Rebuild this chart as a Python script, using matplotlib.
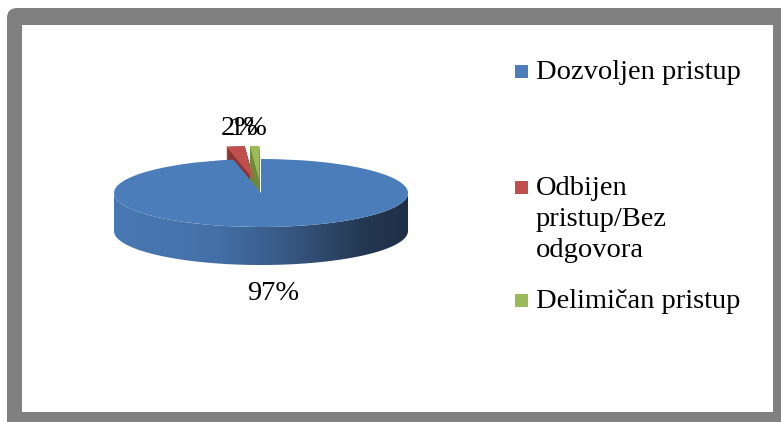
import numpy as np
import matplotlib
matplotlib.use('Agg')
import matplotlib.pyplot as plt
from matplotlib.patches import Wedge, Polygon, Rectangle, FancyBboxPatch
from matplotlib.colors import LinearSegmentedColormap

# ---------------- data ----------------
categories = ["Dozvoljen pristup", "Odbijen\npristup/Bez\nodgovora", "Delimičan pristup"]
values = [97, 2, 1]
explode = [0.0, 0.38, 0.38]
top_colors = ["#4A7DBA", "#C0504D", "#9BBB59"]
side_colors = ["#2C4770", "#8A3533", "#6C8A38"]

W, H = 781, 422
fig = plt.figure(figsize=(W / 100, H / 100), dpi=100)

# background axes in pixel coords: grey frame + legend + labels
bg = fig.add_axes([0, 0, 1, 1])
bg.set_xlim(0, W)
bg.set_ylim(H, 0)
bg.axis('off')
bg.add_patch(FancyBboxPatch((7, 8), 800, 440, boxstyle="round,pad=0,rounding_size=10",
                            fc="#808080", ec="none"))
bg.add_patch(Rectangle((22, 25), 751, 387, fc="white", ec="none"))

font = dict(family="Liberation Serif", size=20.5, color="black")

# legend (drawn by hand, text column at right); y = first-line baseline
legend_rows = [79, 195, 308]
for name, col, yb in zip(categories, top_colors, legend_rows):
    bg.add_patch(Rectangle((515, yb - 14), 13, 13, fc=col, ec="none"))
    bg.text(536, yb - 19, name, ha="left", va="top", linespacing=1.32, **font)

# ---------------- 3D-looking pie ----------------
rx, ry, cx, cy = 147.0, 34.0, 261.0, 193.0   # pixels
depth = 38.0 / ry                             # in y data units
left, right, top, bottom = 100, 430, 100, 310
ax = fig.add_axes([left / W, 1 - bottom / H, (right - left) / W, (bottom - top) / H])
ax.set_facecolor("none")
ax.axis('off')
xlim = (-(cx - left) / rx, (right - cx) / rx)
ylim = (-(bottom - cy) / ry, (cy - top) / ry)

# slice angles, clockwise from 12 o'clock
angles = []
start = 90.0
for v in values:
    end = start - v * 3.6
    angles.append((end, start))
    start = end

# extrusions of exploded slices (behind the main slice)
for (t1, t2), e, sc in zip(angles, explode, side_colors):
    if e == 0:
        continue
    mid = np.radians((t1 + t2) / 2)
    ox, oy = e * np.cos(mid), e * np.sin(mid)
    for k in np.linspace(depth, 0, 40):
        ax.add_patch(Wedge((ox, oy - k), 1.0, t1, t2, fc=sc, ec="none"))

# front side band of the main slice with horizontal gradient
t = np.radians(np.linspace(180, 360, 200))
xs, ys = np.cos(t), np.sin(t)
band = np.concatenate([np.column_stack([xs, ys]),
                       np.column_stack([xs[::-1], ys[::-1] - depth])])
band_patch = Polygon(band, closed=True, fc="none", ec="none")
ax.add_patch(band_patch)
cmap = LinearSegmentedColormap.from_list(
    "side", [(0, "#4979B3"), (0.35, "#4470A7"), (0.6, "#375782"),
             (0.85, "#243851"), (1.0, "#1F2F47")])
grad = np.linspace(0, 1, 256).reshape(1, -1)
im = ax.imshow(grad, cmap=cmap, extent=(-1, 1, -1 - depth, 0), aspect="auto",
               interpolation="bilinear", zorder=1)
im.set_clip_path(band_patch)

# top faces
for (t1, t2), e, tc in zip(angles, explode, top_colors):
    mid = np.radians((t1 + t2) / 2)
    ox, oy = e * np.cos(mid), e * np.sin(mid)
    ax.add_patch(Wedge((ox, oy), 1.0, t1, t2, fc=tc, ec="none", zorder=2 if e == 0 else 3))

ax.set_xlim(*xlim)
ax.set_ylim(*ylim)

# percentage labels
pct = [f"{v}%" for v in values]
bg.text(273, 300, pct[0], ha="center", va="baseline", **font)
bg.text(221, 135, pct[1], ha="left", va="baseline", **font)
bg.text(267, 135, pct[2], ha="right", va="baseline", **font)

fig.savefig("out.png", dpi=100)
